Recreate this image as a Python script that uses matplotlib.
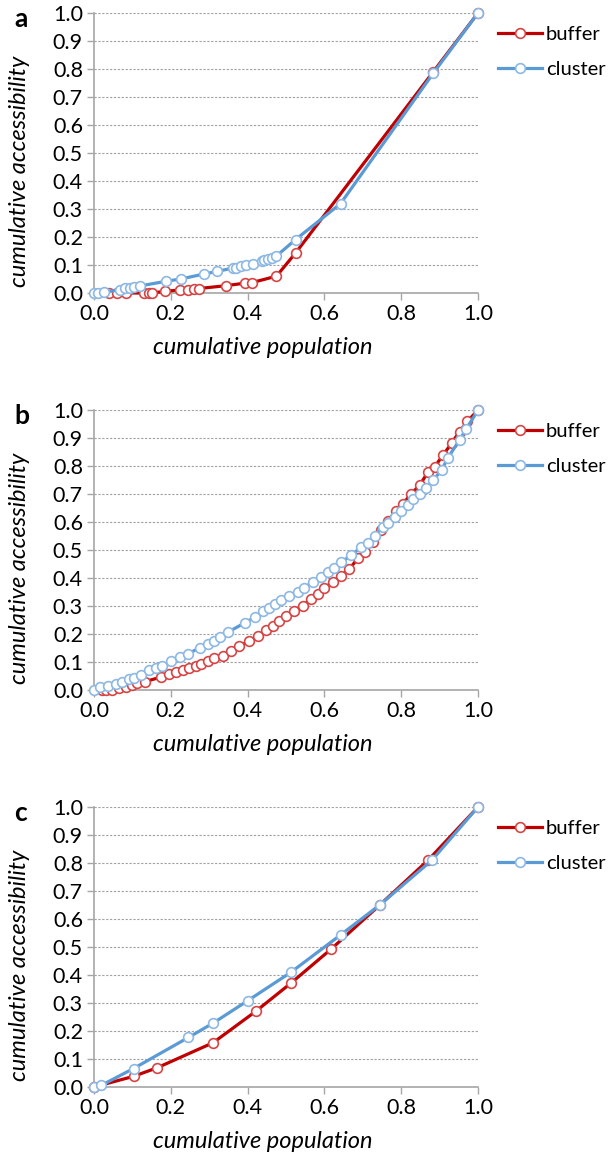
import matplotlib
matplotlib.use('Agg')
import matplotlib.pyplot as plt

plt.rcParams['font.family'] = ['Lato', 'DejaVu Sans']

# panel a
a_buffer_x = [0.04, 0.06, 0.083, 0.129, 0.142, 0.150, 0.186, 0.224, 0.246, 0.261, 0.273,
              0.343, 0.392, 0.411, 0.475, 0.525, 0.883, 1.0]
a_buffer_y = [0.0, 0.0, 0.0, 0.0, 0.0, 0.0, 0.006, 0.011, 0.012, 0.014, 0.016,
              0.026, 0.035, 0.037, 0.060, 0.143, 0.789, 1.0]
a_cluster_x = [0.0, 0.010, 0.026, 0.067, 0.080, 0.093, 0.105, 0.119, 0.188, 0.226, 0.287,
               0.321, 0.361, 0.369, 0.384, 0.397, 0.413, 0.438, 0.442, 0.454, 0.464,
               0.475, 0.525, 0.642, 0.883, 1.0]
a_cluster_y = [0.0, 0.0, 0.002, 0.012, 0.017, 0.019, 0.022, 0.025, 0.042, 0.050, 0.068,
               0.077, 0.089, 0.091, 0.097, 0.101, 0.105, 0.116, 0.118, 0.122, 0.126,
               0.132, 0.191, 0.319, 0.784, 1.0]

# panel b
b_buffer_x = [0.02, 0.031, 0.048, 0.065, 0.083, 0.100, 0.113, 0.133, 0.174, 0.196, 0.213,
              0.231, 0.248, 0.265, 0.278, 0.296, 0.313, 0.335, 0.357, 0.378, 0.404,
              0.426, 0.448, 0.465, 0.483, 0.500, 0.522, 0.544, 0.565, 0.583, 0.600,
              0.622, 0.644, 0.665, 0.687, 0.706, 0.726, 0.748, 0.765, 0.787, 0.805,
              0.826, 0.848, 0.870, 0.887, 0.909, 0.931, 0.952, 0.972, 1.0]
b_buffer_y = [0.0, 0.0, 0.0, 0.006, 0.012, 0.018, 0.024, 0.030, 0.046, 0.056, 0.064,
              0.072, 0.078, 0.086, 0.094, 0.102, 0.113, 0.122, 0.141, 0.156, 0.176,
              0.192, 0.213, 0.228, 0.245, 0.264, 0.282, 0.300, 0.326, 0.342, 0.366,
              0.384, 0.408, 0.432, 0.470, 0.494, 0.530, 0.573, 0.605, 0.638, 0.665,
              0.701, 0.731, 0.779, 0.797, 0.839, 0.881, 0.923, 0.959, 1.0]
b_cluster_x = [0.0, 0.015, 0.037, 0.057, 0.072, 0.091, 0.104, 0.122, 0.144, 0.161, 0.178,
               0.200, 0.224, 0.244, 0.276, 0.296, 0.313, 0.329, 0.348, 0.393, 0.420,
               0.439, 0.457, 0.472, 0.487, 0.509, 0.531, 0.548, 0.570, 0.591, 0.609,
               0.626, 0.644, 0.670, 0.696, 0.713, 0.731, 0.752, 0.765, 0.783, 0.800,
               0.818, 0.831, 0.848, 0.865, 0.883, 0.905, 0.922, 0.952, 0.970, 1.0]
b_cluster_y = [0.0, 0.010, 0.014, 0.022, 0.029, 0.038, 0.043, 0.052, 0.070, 0.077, 0.086,
               0.102, 0.118, 0.129, 0.151, 0.163, 0.175, 0.188, 0.206, 0.240, 0.261,
               0.282, 0.294, 0.306, 0.320, 0.336, 0.350, 0.366, 0.386, 0.404, 0.420,
               0.434, 0.456, 0.482, 0.510, 0.525, 0.551, 0.582, 0.597, 0.618, 0.641,
               0.662, 0.681, 0.701, 0.722, 0.749, 0.785, 0.830, 0.893, 0.933, 1.0]

# panel c
c_buffer_x = [0.0, 0.103, 0.165, 0.310, 0.421, 0.512, 0.617, 0.745, 0.870, 1.0]
c_buffer_y = [0.0, 0.038, 0.069, 0.158, 0.270, 0.370, 0.492, 0.651, 0.810, 1.0]
c_cluster_x = [0.0, 0.019, 0.103, 0.246, 0.310, 0.400, 0.512, 0.642, 0.745, 0.880, 1.0]
c_cluster_y = [0.0, 0.006, 0.066, 0.177, 0.228, 0.308, 0.409, 0.543, 0.651, 0.810, 1.0]

panels = [
    ('a', a_buffer_x, a_buffer_y, a_cluster_x, a_cluster_y),
    ('b', b_buffer_x, b_buffer_y, b_cluster_x, b_cluster_y),
    ('c', c_buffer_x, c_buffer_y, c_cluster_x, c_cluster_y),
]
ticks = [0.0, 0.1, 0.2, 0.3, 0.4, 0.5, 0.6, 0.7, 0.8, 0.9, 1.0]
xticks = [0.0, 0.2, 0.4, 0.6, 0.8, 1.0]

W, H = 615, 1155
fig = plt.figure(figsize=(W / 100, H / 100), dpi=100)
tops = [13, 410, 807]
left, right, height = 94, 478, 280

for (letter, bx, by, cx, cy), top in zip(panels, tops):
    ax = fig.add_axes([left / W, 1 - (top + height) / H, (right - left) / W, height / H])
    ax.plot(bx, by, color='#C00000', lw=2.3, marker='o', ms=7, mfc='white',
            mec='#D64545', mew=1.2, label='buffer', clip_on=False, zorder=3)
    ax.plot(cx, cy, color='#5B9BD5', lw=2.3, marker='o', ms=7, mfc='white',
            mec='#8DB8E3', mew=1.2, label='cluster', clip_on=False, zorder=4)
    ax.set_xlim(0, 1)
    ax.set_ylim(0, 1)
    ax.set_xticks(xticks)
    ax.set_yticks(ticks)
    ax.set_xticklabels([f'{t:.1f}' for t in xticks])
    ax.set_yticklabels([f'{t:.1f}' for t in ticks])
    ax.grid(axis='y', color='#A0A0A0', ls=(0, (2, 1.5)), lw=0.8)
    ax.set_axisbelow(True)
    for s in ['top', 'right']:
        ax.spines[s].set_visible(False)
    for s in ['left', 'bottom']:
        ax.spines[s].set_color('#A6A6A6')
        ax.spines[s].set_linewidth(1.2)
    ax.tick_params(direction='out', length=5, width=1, color='#A6A6A6',
                   labelsize=15.5, pad=3, labelcolor='black')
    xl = ax.set_xlabel('cumulative population', fontsize=17, style='italic')
    yl = ax.set_ylabel('cumulative accessibility', fontsize=17, style='italic')
    ax.xaxis.set_label_coords(0.44, -0.196)
    ax.yaxis.set_label_coords(-0.195, 0.435)
    xl.set_va('center')
    yl.set_va('center')
    ax.legend(loc='center left', bbox_to_anchor=(1.03, 0.86), frameon=False,
              fontsize=14.5, handlelength=2.2, labelspacing=0.9, handletextpad=0.2,
              borderaxespad=0)
    fig.text(14 / W, 1 - (top + 6) / H, letter, fontsize=19, fontweight='bold',
             va='center', ha='left')

plt.savefig('out.png', dpi=100)
